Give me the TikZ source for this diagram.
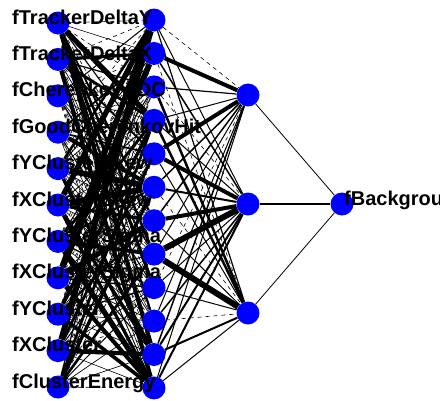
\documentclass[tikz,border=0pt]{standalone}
\usepackage{fontspec}
\setmainfont{Liberation Sans}
\usetikzlibrary{backgrounds}
\tikzset{neuron/.style={circle,fill=blue,draw=none,inner sep=0pt,minimum size=23pt},
        varname/.style={font=\bfseries\fontsize{20}{20}\selectfont,anchor=base west,inner sep=0pt},
        synapse/.style={draw=black,line width=#1},
        negsynapse/.style={draw=black,line width=#1,dash pattern=on 4pt off 4pt},
        }

\begin{document}
\begin{tikzpicture}[x=1pt,y=-1pt]
    \useasboundingbox (0,0) rectangle (440,400);
    \foreach \i in {1,...,11}
        \node[neuron] (in\i) at (58,{23+(\i-1)*36.4}) {};
    \foreach \j in {1,...,12}
        \node[neuron] (hid\j) at (154,{20+(\j-1)*33.45}) {};
    \foreach \k in {1,2,3}
        \node[neuron] (mid\k) at (248,{95+(\k-1)*109}) {};
    \node[neuron] (out) at (342,204) {};

    \begin{scope}[on background layer]
        \pgfmathsetseed{42}
        \foreach \i in {1,...,11}
            \foreach \j in {1,...,12} {
                \pgfmathsetmacro\r{rnd}
                \pgfmathsetmacro\w{0.5+5.5*\r^4}
                \ifdim\r pt<0.25pt
                    \draw[negsynapse=0.6] (in\i) -- (hid\j);
                \else
                    \draw[synapse=\w] (in\i) -- (hid\j);
                \fi
            }
        \foreach \j/\a/\b/\c in {1/-0.8/1/1.2, 2/4/1.5/-0.6, 3/1.2/-0.8/2.5, 4/1/1/2.5,
                                 5/4/4/1, 6/1.5/2/-0.8, 7/1.5/4/1, 8/1/6/6,
                                 9/-0.8/1/1, 10/1/1.5/-0.8, 11/1.5/2/2, 12/1/2/1} {
            \foreach \k/\v in {1/\a,2/\b,3/\c} {
                \ifdim\v pt<0pt
                    \draw[negsynapse=0.6] (hid\j) -- (mid\k);
                \else
                    \draw[synapse=\v] (hid\j) -- (mid\k);
                \fi
            }
        }
        \draw[synapse=0.8] (mid1) -- (out);
        \draw[synapse=1.5] (mid2) -- (out);
        \draw[synapse=0.8] (mid3) -- (out);
    \end{scope}

    \foreach \n [count=\i] in {fTrackerDeltaY,fTrackerDeltaX,fCherenkovADC,fGoodCherenkovHit,
                               fYClusterSkew,fXClusterSkew,fYClusterSigma,fXClusterSigma,
                               fYCluster,fXCluster,fClusterEnergy}
        \node[varname] (lab\i) at (12,{24+(\i-1)*36.4}) {\n};
    \node[varname] (labout) at (344,205) {fBackground};
\end{tikzpicture}
\end{document}
